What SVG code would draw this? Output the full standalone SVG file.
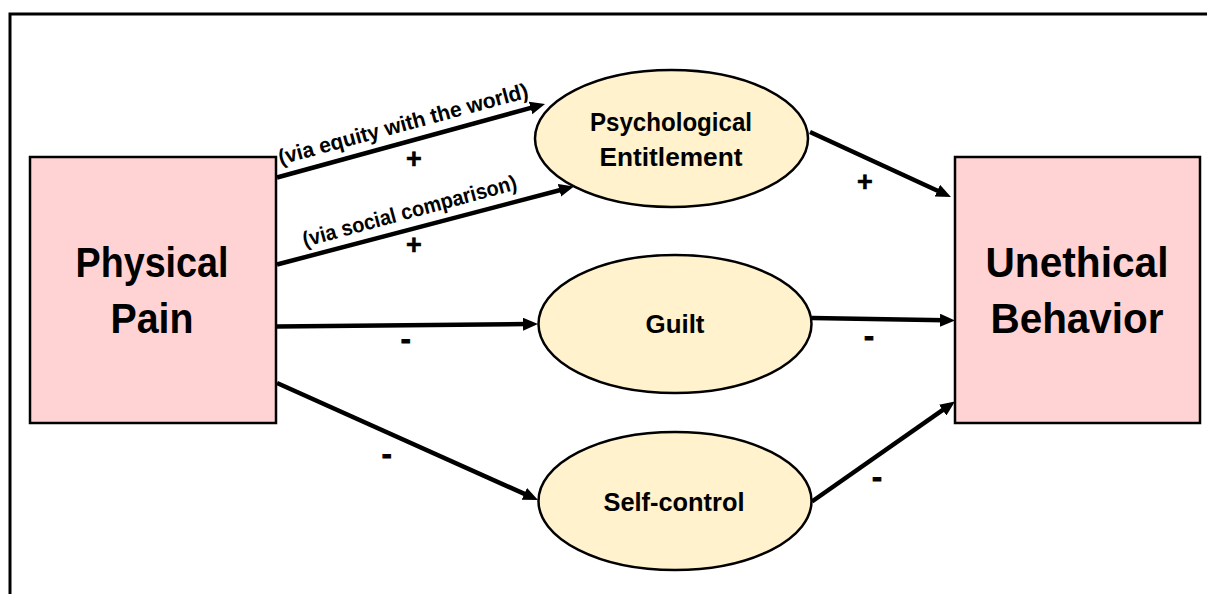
<svg xmlns="http://www.w3.org/2000/svg" width="1207" height="594" viewBox="0 0 1207 594">
<defs>
<style>
.box{fill:#FFD3D3;stroke:#000;stroke-width:2.5}
.ell{fill:#FFF2CC;stroke:#000;stroke-width:2.5}
.big{font-family:"Liberation Sans",Arial,sans-serif;font-weight:bold;font-size:43px;fill:#000;text-anchor:middle}
.mid{font-family:"Liberation Sans",Arial,sans-serif;font-weight:bold;font-size:26px;fill:#000;text-anchor:middle}
.lbl{font-family:"Liberation Sans",Arial,sans-serif;font-weight:bold;font-size:21.5px;fill:#000;text-anchor:middle}
.sign{font-family:"Liberation Sans",Arial,sans-serif;font-weight:bold;font-size:27px;fill:#000;stroke:#000;stroke-width:0.6;text-anchor:middle}
.dash{font-family:"Liberation Sans",Arial,sans-serif;font-weight:bold;font-size:30px;fill:#000;stroke:#000;stroke-width:1;text-anchor:middle}
.conn{stroke:#000;stroke-width:4.5;fill:none;marker-end:url(#arr)}
</style>
<marker id="arr" markerUnits="userSpaceOnUse" markerWidth="16" markerHeight="14" refX="5" refY="6.5" orient="auto">
<path d="M0,0 L15,6.5 L0,13 z" fill="#000"/>
</marker>
</defs>
<rect width="1207" height="594" fill="#fff"/>
<path d="M10,600 V14 H1212" fill="none" stroke="#000" stroke-width="3"/>

<g id="connectors">
<line class="conn" x1="277" y1="177.5" x2="535.4" y2="106.6"/>
<line class="conn" x1="277" y1="264.5" x2="564.3" y2="189"/>
<line class="conn" x1="277" y1="326.5" x2="528" y2="324.1"/>
<line class="conn" x1="277" y1="383" x2="528.9" y2="495.9"/>
<line class="conn" x1="810" y1="132" x2="941.9" y2="192.8"/>
<line class="conn" x1="812" y1="318" x2="945" y2="320.3"/>
<line class="conn" x1="812" y1="501.5" x2="946.8" y2="407.2"/>
<text class="lbl" transform="translate(405,131) rotate(-15.2)" textLength="258" lengthAdjust="spacingAndGlyphs">(via equity with the world)</text>
<text class="lbl" transform="translate(411.5,218) rotate(-15.2)" textLength="221" lengthAdjust="spacingAndGlyphs">(via social comparison)</text>
<text class="sign" x="414" y="167.6">+</text>
<text class="sign" x="414" y="253.6">+</text>
<text class="sign" x="865" y="190.6">+</text>
<text class="dash" x="405.7" y="349.3">-</text>
<text class="dash" x="386.7" y="464.3">-</text>
<text class="dash" x="869" y="346">-</text>
<text class="dash" x="877" y="487.3">-</text>
</g>

<g id="physical-pain">
<rect class="box" x="30" y="157" width="246" height="266"/>
<text class="big" x="152" y="277" textLength="153" lengthAdjust="spacingAndGlyphs">Physical</text>
<text class="big" x="152" y="333" textLength="83" lengthAdjust="spacingAndGlyphs">Pain</text>
</g>

<g id="unethical-behavior">
<rect class="box" x="955" y="157" width="245" height="266"/>
<text class="big" x="1077" y="277" textLength="183" lengthAdjust="spacingAndGlyphs">Unethical</text>
<text class="big" x="1077" y="333" textLength="173" lengthAdjust="spacingAndGlyphs">Behavior</text>
</g>

<g id="psychological-entitlement">
<ellipse class="ell" cx="671.5" cy="138.5" rx="136.5" ry="68.5"/>
<text class="mid" x="671" y="131" textLength="162" lengthAdjust="spacingAndGlyphs">Psychological</text>
<text class="mid" x="671" y="165.5" textLength="143" lengthAdjust="spacingAndGlyphs">Entitlement</text>
</g>

<g id="guilt">
<ellipse class="ell" cx="675" cy="324" rx="136.5" ry="69"/>
<text class="mid" x="675" y="333" textLength="59" lengthAdjust="spacingAndGlyphs">Guilt</text>
</g>

<g id="self-control">
<ellipse class="ell" cx="675" cy="501" rx="136.5" ry="69"/>
<text class="mid" x="674" y="510.5" textLength="141" lengthAdjust="spacingAndGlyphs">Self-control</text>
</g>
</svg>
